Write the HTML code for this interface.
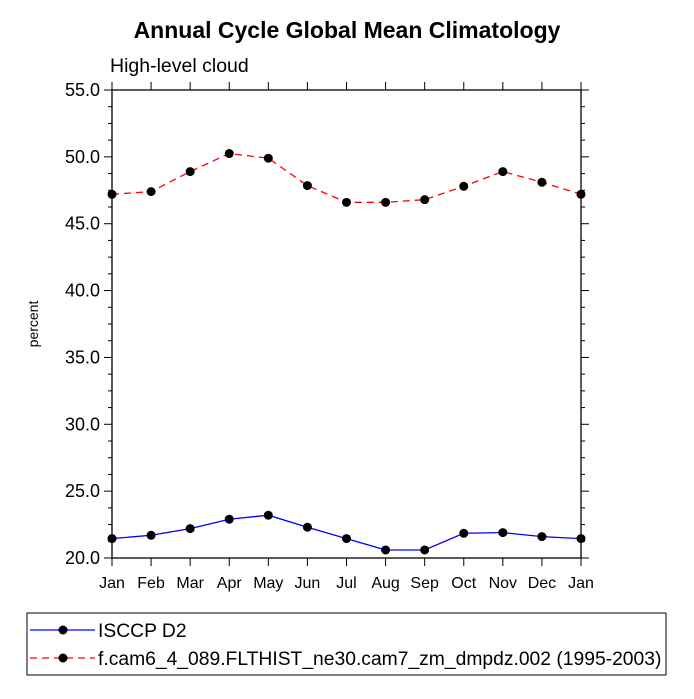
<!DOCTYPE html>
<html><head><meta charset="utf-8"><style>
body{margin:0;background:#fff;}
svg text{font-family:"Liberation Sans",Helvetica,Arial,sans-serif;}
</style></head><body>
<svg id="chart" width="694" height="694" viewBox="0 0 694 694" xmlns="http://www.w3.org/2000/svg">
<rect width="694" height="694" fill="#fff"/>
<text x="347" y="38" text-anchor="middle" font-size="23" font-weight="bold">Annual Cycle Global Mean Climatology</text>
<text x="110" y="72" font-size="19.5">High-level cloud</text>
<text transform="translate(38,324) rotate(-90)" text-anchor="middle" font-size="14">percent</text>
<g id="axes"></g>
<g id="series"></g>
<rect x="27" y="613" width="639" height="62" fill="none" stroke="#000" stroke-width="1"/>
<g>
<line x1="30" y1="630" x2="95" y2="630" stroke="#0000ff" stroke-width="1.3"/>
<circle cx="63" cy="630" r="4.5" fill="#000"/>
<text x="98" y="637" font-size="19.3">ISCCP D2</text>
</g>
<g>
<line x1="30" y1="658" x2="95" y2="658" stroke="#ff0000" stroke-width="1.3" stroke-dasharray="7,5"/>
<circle cx="63" cy="658" r="4.5" fill="#000"/>
<text x="98" y="665" font-size="19.3">f.cam6_4_089.FLTHIST_ne30.cam7_zm_dmpdz.002 (1995-2003)</text>
</g>
</svg>
<script>
const months=["Jan","Feb","Mar","Apr","May","Jun","Jul","Aug","Sep","Oct","Nov","Dec","Jan"];
const obsValues=[21.45,21.7,22.2,22.9,23.2,22.3,21.45,20.6,20.6,21.85,21.9,21.6,21.45];
const modelValues=[47.2,47.4,48.9,50.25,49.9,47.85,46.6,46.6,46.8,47.8,48.9,48.1,47.2];
const yTicks=[20,25,30,35,40,45,50,55];
const yTickLabels=["20.0","25.0","30.0","35.0","40.0","45.0","50.0","55.0"];
const NS="http://www.w3.org/2000/svg";
const L=112,R=581,T=90,B=558;
const xs=i=>L+(R-L)*i/(months.length-1);
const ys=v=>B-(v-20)/(55-20)*(B-T);
function mk(tag,attrs,parent){const e=document.createElementNS(NS,tag);for(const k in attrs)e.setAttribute(k,attrs[k]);parent.appendChild(e);return e;}
const ax=document.getElementById('axes');
const frame=mk('rect',{x:L,y:T,width:R-L,height:B-T,fill:'none',stroke:'#000','stroke-width':1.3},ax);


for(let v=20;v<=55;v+=1.25){
  const major=Math.abs(v%5)<1e-6;const len=major?8:4;const y=ys(v);
  mk('line',{x1:L-len,y1:y,x2:L,y2:y,stroke:'#000','stroke-width':1},ax);
  mk('line',{x1:R,y1:y,x2:R+len,y2:y,stroke:'#000','stroke-width':1},ax);
}
yTicks.forEach((v,i)=>{
  const t=mk('text',{x:L-12,y:ys(v)+6,'text-anchor':'end','font-size':18},ax);
  t.textContent=yTickLabels[i];
  
  
});
months.forEach((m,i)=>{
  const x=xs(i);
  mk('line',{x1:x,y1:B,x2:x,y2:B+8,stroke:'#000','stroke-width':1},ax);
  mk('line',{x1:x,y1:T-8,x2:x,y2:T,stroke:'#000','stroke-width':1},ax);
  const t=mk('text',{x:x,y:B+30,'text-anchor':'middle','font-size':16},ax);
  t.textContent=m;
  
  
});
const sg=document.getElementById('series');
function drawSeries(vals,color,dash,name){
  const g=mk('g',{},sg);
  
  
  const p=mk('polyline',{points:vals.map((v,i)=>xs(i)+','+ys(v)).join(' '),fill:'none',stroke:color,'stroke-width':1.3},g);
  if(dash)p.setAttribute('stroke-dasharray',dash);
  vals.forEach((v,i)=>{
    const c=mk('circle',{cx:xs(i),cy:ys(v),r:4.5,fill:'#000'},g);
    
    
  });
}
drawSeries(obsValues,'#0000ff',null,'isccp-series');
drawSeries(modelValues,'#ff0000','7,5','model-series');
</script>
</body></html>
